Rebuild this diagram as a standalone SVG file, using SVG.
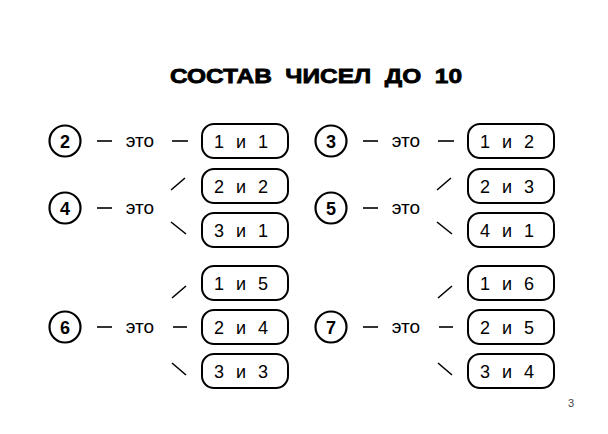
<svg xmlns="http://www.w3.org/2000/svg" width="608" height="434" viewBox="0 0 608 434">
<style>
.c{fill:none;stroke:#000;stroke-width:2.2}
.b{fill:none;stroke:#000;stroke-width:2}
.n{font-family:"Liberation Sans",Arial,sans-serif;font-weight:bold;font-size:18px;text-anchor:middle}
.t{font-family:"Liberation Sans",Arial,sans-serif;font-size:19px;text-anchor:middle}
.p{font-family:"Liberation Sans",Arial,sans-serif;font-size:18px;text-anchor:middle;word-spacing:7px}
.l{stroke:#000;stroke-width:1.6;fill:none}
</style>
<rect width="608" height="434" fill="#fff"/>
<text x="316" y="83" font-family="'Liberation Sans',Arial,sans-serif" font-weight="bold" font-size="21" stroke="#000" stroke-width="0.8" text-anchor="middle" textLength="292" lengthAdjust="spacingAndGlyphs" xml:space="preserve">СОСТАВ  ЧИСЕЛ  ДО  10</text>

<g id="n2"><circle class="c" cx="65" cy="141" r="15.5"/><text class="n" x="65" y="147.5">2</text></g>
<g id="e2"><text class="t" x="140" y="147">это</text></g>
<g id="b11"><rect class="b" x="202" y="124" width="86" height="34" rx="12"/><text class="p" x="241" y="147.5">1 и 1</text></g>

<g id="n4"><circle class="c" cx="65" cy="208" r="15.5"/><text class="n" x="65" y="214.5">4</text></g>
<g id="e4"><text class="t" x="140" y="214">это</text></g>
<g id="b22"><rect class="b" x="202" y="169" width="86" height="34" rx="12"/><text class="p" x="241" y="192.5">2 и 2</text></g>
<g id="b31"><rect class="b" x="202" y="213" width="86" height="34" rx="12"/><text class="p" x="241" y="236.5">3 и 1</text></g>

<g id="n6"><circle class="c" cx="65" cy="327" r="15.5"/><text class="n" x="65" y="333.5">6</text></g>
<g id="e6"><text class="t" x="140" y="333">это</text></g>
<g id="b15"><rect class="b" x="202" y="266" width="86" height="34" rx="12"/><text class="p" x="241" y="289.5">1 и 5</text></g>
<g id="b24"><rect class="b" x="202" y="310" width="86" height="34" rx="12"/><text class="p" x="241" y="333.5">2 и 4</text></g>
<g id="b33"><rect class="b" x="202" y="354" width="86" height="34" rx="12"/><text class="p" x="241" y="377.5">3 и 3</text></g>

<g id="n3"><circle class="c" cx="331" cy="141" r="15.5"/><text class="n" x="331" y="147.5">3</text></g>
<g id="e3"><text class="t" x="406" y="147">это</text></g>
<g id="b12"><rect class="b" x="468" y="124" width="86" height="34" rx="12"/><text class="p" x="507" y="147.5">1 и 2</text></g>

<g id="n5"><circle class="c" cx="331" cy="208" r="15.5"/><text class="n" x="331" y="214.5">5</text></g>
<g id="e5"><text class="t" x="406" y="214">это</text></g>
<g id="b23"><rect class="b" x="468" y="169" width="86" height="34" rx="12"/><text class="p" x="507" y="192.5">2 и 3</text></g>
<g id="b41"><rect class="b" x="468" y="213" width="86" height="34" rx="12"/><text class="p" x="507" y="236.5">4 и 1</text></g>

<g id="n7"><circle class="c" cx="331" cy="327" r="15.5"/><text class="n" x="331" y="333.5">7</text></g>
<g id="e7"><text class="t" x="406" y="333">это</text></g>
<g id="b16"><rect class="b" x="468" y="266" width="86" height="34" rx="12"/><text class="p" x="507" y="289.5">1 и 6</text></g>
<g id="b25"><rect class="b" x="468" y="310" width="86" height="34" rx="12"/><text class="p" x="507" y="333.5">2 и 5</text></g>
<g id="b34"><rect class="b" x="468" y="354" width="86" height="34" rx="12"/><text class="p" x="507" y="377.5">3 и 4</text></g>

<g id="connectors">
<line class="l" x1="97" y1="141" x2="112" y2="141"/>
<line class="l" x1="172" y1="141" x2="188" y2="141"/>
<line class="l" x1="97" y1="208" x2="112" y2="208"/>
<line class="l" x1="171" y1="190" x2="185" y2="178"/>
<line class="l" x1="171" y1="222" x2="186" y2="234"/>
<line class="l" x1="97" y1="327" x2="112" y2="327"/>
<line class="l" x1="172" y1="298" x2="186" y2="286"/>
<line class="l" x1="173" y1="327" x2="187" y2="327"/>
<line class="l" x1="172" y1="363" x2="186" y2="375"/>

<line class="l" x1="363" y1="141" x2="378" y2="141"/>
<line class="l" x1="438" y1="141" x2="454" y2="141"/>
<line class="l" x1="363" y1="208" x2="378" y2="208"/>
<line class="l" x1="437" y1="190" x2="451" y2="178"/>
<line class="l" x1="437" y1="222" x2="452" y2="234"/>
<line class="l" x1="363" y1="327" x2="378" y2="327"/>
<line class="l" x1="438" y1="298" x2="452" y2="286"/>
<line class="l" x1="439" y1="327" x2="453" y2="327"/>
<line class="l" x1="438" y1="363" x2="452" y2="375"/>
</g>
<text x="571" y="407" font-family="'Liberation Sans',Arial,sans-serif" font-size="11" fill="#444" text-anchor="middle">3</text>
</svg>
